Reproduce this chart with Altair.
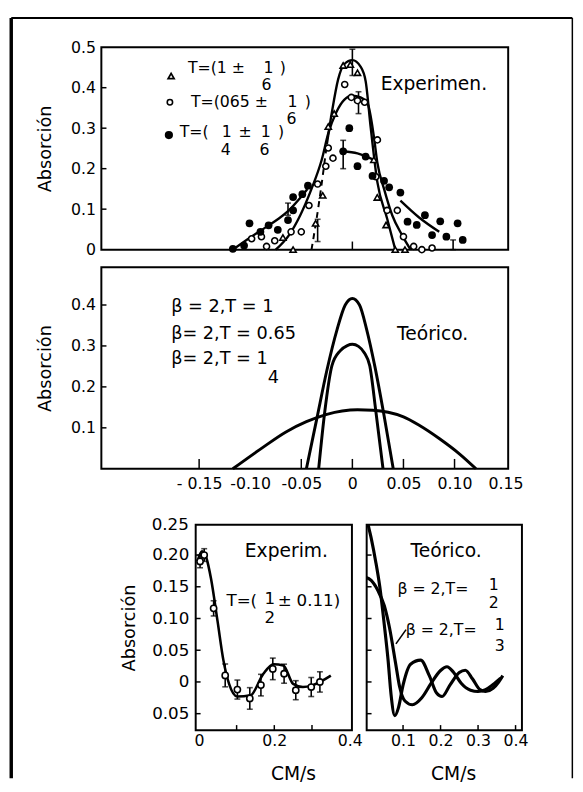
import altair as alt
import pandas as pd

FONT = "DejaVu Sans"

# ---------------- Top panel (Experimen.) ----------------
tri_x = [-0.068, -0.058, -0.036, -0.029, -0.0236, -0.0178, -0.009, -0.002, 0.005, 0.021, 0.0244, 0.033, 0.042, 0.0515]
tri_y = [0.030, 0.000, 0.065, 0.134, 0.304, 0.336, 0.455, 0.457, 0.437, 0.222, 0.129, 0.061, 0.000, 0.000]

oc_x = [-0.0986, -0.089, -0.084, -0.076, -0.060, -0.050, -0.0425, -0.034, -0.026, -0.019, -0.0236, -0.0075,
        -0.001, 0.005, 0.012, 0.0245, 0.023, 0.034, 0.044, 0.050, 0.060, 0.068, 0.078]
oc_y = [0.027, 0.032, 0.008, 0.022, 0.044, 0.044, 0.109, 0.162, 0.206, 0.226, 0.251, 0.408,
        0.376, 0.368, 0.364, 0.271, 0.180, 0.097, 0.097, 0.032, 0.008, 0.000, 0.004]

fc_x = [-0.117, -0.106, -0.1007, -0.090, -0.082, -0.073, -0.063, -0.058, -0.058, -0.049, -0.0435,
        -0.003, -0.009, 0.005, 0.013, 0.0197, 0.031, 0.036, 0.047, 0.054, 0.063, 0.071, 0.078,
        0.086, 0.092, 0.103, 0.108]
fc_y = [0.002, 0.010, 0.065, 0.044, 0.060, 0.049, 0.073, 0.097, 0.130, 0.137, 0.158,
        0.300, 0.243, 0.206, 0.230, 0.182, 0.170, 0.154, 0.141, 0.069, 0.061, 0.085, 0.036,
        0.070, 0.032, 0.065, 0.024]

c1_x = [-0.025, -0.020, -0.014, -0.008, 0.0, 0.008, 0.013, 0.018, 0.0245, 0.034, 0.042]
c1_y = [0.260, 0.340, 0.420, 0.458, 0.468, 0.452, 0.416, 0.300, 0.166, 0.077, 0.0]
c1d_x = [-0.040, -0.033, -0.025]
c1d_y = [0.0, 0.110, 0.260]

c2_x = [-0.075, -0.062, -0.051, -0.040, -0.030, -0.0236, -0.0156, -0.008, 0.0, 0.008, 0.015, 0.021,
        0.0245, 0.031, 0.039, 0.0486, 0.057]
c2_y = [0.0, 0.036, 0.085, 0.150, 0.222, 0.287, 0.340, 0.370, 0.380, 0.376, 0.360, 0.280,
        0.214, 0.150, 0.085, 0.036, 0.0]

c3a_x = [-0.117, -0.100, -0.085, -0.073, -0.063, -0.052, -0.044]
c3a_y = [0.0, 0.030, 0.055, 0.075, 0.095, 0.125, 0.150]
c3b_x = [-0.009, 0.005, 0.021]
c3b_y = [0.243, 0.238, 0.222]
c3c_x = [0.047, 0.065, 0.085]
c3c_y = [0.121, 0.080, 0.044]

err_x = [0.0, 0.006, -0.009, -0.034, -0.063, 0.0986]
err_lo = [0.430, 0.336, 0.200, 0.020, 0.085, 0.0]
err_hi = [0.495, 0.390, 0.270, 0.075, 0.115, 0.024]

top_y_ticks = [0.0, 0.1, 0.2, 0.3, 0.4, 0.5]

# legend / annotation texts of the top panel (data coordinates)
top_left_text_x = [-0.161, -0.158, -0.169]
top_left_text_y = [0.449, 0.364, 0.291]
top_left_text = ["T=(1 \u00b1", "T=(065 \u00b1", "T=("]
top_ctr_text_x = [-0.082, -0.084, -0.068, -0.0585, -0.0595, -0.0435, -0.123, -0.124, -0.105, -0.0848, -0.086, -0.0697]
top_ctr_text_y = [0.449, 0.407, 0.449, 0.364, 0.322, 0.364, 0.291, 0.247, 0.291, 0.291, 0.247, 0.291]
top_ctr_text = ["1", "6", ")", "1", "6", ")", "1", "4", "\u00b1", "1", "6", ")"]
top_title_x = [0.0277]
top_title_y = [0.408]
top_title = ["Experimen."]
leg_x = [-0.1774, -0.1786, -0.1796]
leg_y = [0.429, 0.364, 0.283]

# ---------------- Middle panel (Teórico.) ----------------
m1_x = [-0.045, -0.035, -0.025, -0.015, -0.007, 0.0, 0.007, 0.014, 0.022, 0.031, 0.040]
m1_y = [0.0, 0.120, 0.240, 0.340, 0.400, 0.416, 0.400, 0.340, 0.250, 0.130, 0.0]
m2_x = [-0.033, -0.027, -0.020, -0.012, -0.005, 0.0, 0.006, 0.012, 0.017, 0.023, 0.030]
m2_y = [0.0, 0.140, 0.252, 0.288, 0.301, 0.304, 0.299, 0.282, 0.252, 0.140, 0.0]
m3_x = [-0.117, -0.090, -0.065, -0.045, -0.025, -0.010, 0.005, 0.020, 0.035, 0.050, 0.065, 0.085, 0.105, 0.121]
m3_y = [0.0, 0.048, 0.090, 0.115, 0.133, 0.141, 0.144, 0.143, 0.138, 0.127, 0.107, 0.074, 0.036, 0.0]

mid_x_ticks = [-0.15, -0.10, -0.05, 0.0, 0.05, 0.10, 0.15]
mid_x_inner_ticks = [-0.15, -0.05, 0.0, 0.05, 0.10]
mid_y_ticks = [0.1, 0.2, 0.3, 0.4]
mid_text_x = [-0.1774, -0.1774, -0.1774]
mid_text_y = [0.396, 0.328, 0.268]
mid_text = ["\u03b2 = 2,T = 1", "\u03b2= 2,T = 0.65", "\u03b2= 2,T =  1"]
mid_ctr_x = [-0.0774]
mid_ctr_y = [0.222]
mid_ctr_text = ["4"]
mid_title_x = [0.0437]
mid_title_y = [0.328]
mid_title = ["Te\u00f3rico."]

# ---------------- Bottom-left (Experim.) ----------------
bl_pt_x = [0.003, 0.014, 0.039, 0.0697, 0.102, 0.135, 0.1645, 0.196, 0.226, 0.257, 0.298, 0.321]
bl_pt_y = [0.190, 0.200, 0.116, 0.0103, -0.012, -0.026, -0.005, 0.0206, 0.013, -0.013, -0.008, 0.0]
bl_err = [0.010, 0.010, 0.012, 0.018, 0.015, 0.017, 0.017, 0.017, 0.015, 0.015, 0.015, 0.016]
bl_c_x = [-0.004, 0.008, 0.020, 0.032, 0.0496, 0.065, 0.080, 0.102, 0.137, 0.171, 0.198, 0.224, 0.250, 0.276, 0.302, 0.350]
bl_c_y = [0.190, 0.206, 0.195, 0.163, 0.095, 0.034, -0.003, -0.023, -0.021, 0.013, 0.028, 0.026, -0.003, -0.008, -0.005, 0.010]
bot_y_ticks = [-0.05, 0.0, 0.05, 0.10, 0.15, 0.20]
bot_top_label_y = [0.2477]
bot_top_label = ["0.25"]
bl_x_ticks = [0.0, 0.1, 0.2, 0.3, 0.4]
bl_text_x = [0.232]
bl_text_y = [0.206]
bl_text = ["Experim."]
bl_left_x = [0.073, 0.259]
bl_left_y = [0.128, 0.128]
bl_left_text = ["T=(", "0.11)"]
bl_ctr_x = [0.188, 0.188, 0.228]
bl_ctr_y = [0.131, 0.101, 0.128]
bl_ctr_text = ["1", "2", "\u00b1"]

# ---------------- Bottom-right (Teórico.) ----------------
ra_x = [0.0, 0.008, 0.016, 0.027, 0.038, 0.050, 0.060, 0.068, 0.078, 0.088, 0.100, 0.120, 0.147, 0.170,
        0.190, 0.204, 0.225, 0.250, 0.266, 0.285, 0.305, 0.320, 0.340, 0.355, 0.366]
ra_y = [0.270, 0.245, 0.224, 0.190, 0.150, 0.090, 0.035, -0.020, -0.053, -0.040, -0.005, 0.028, 0.0345, 0.010,
        -0.018, -0.023, -0.005, 0.015, 0.0185, 0.005, -0.012, -0.015, -0.010, 0.0, 0.010]
rb_x = [0.0, 0.015, 0.033, 0.050, 0.064, 0.080, 0.091, 0.105, 0.125, 0.150, 0.175, 0.200, 0.217, 0.235,
        0.255, 0.280, 0.300, 0.320, 0.340, 0.360]
rb_y = [0.165, 0.160, 0.144, 0.120, 0.085, 0.030, -0.008, -0.030, -0.036, -0.025, -0.002, 0.018, 0.024, 0.015,
        -0.002, -0.013, -0.015, -0.012, -0.004, 0.006]
br_x_ticks = [0.1, 0.2, 0.3, 0.4]
br_text_x = [0.215]
br_text_y = [0.206]
br_text = ["Te\u00f3rico."]
br_left_x = [0.085, 0.107]
br_left_y = [0.147, 0.0825]
br_left_text = ["\u03b2 = 2,T=", "\u03b2 = 2,T="]
br_ctr_x = [0.342, 0.342, 0.358, 0.358]
br_ctr_y = [0.152, 0.124, 0.090, 0.057]
br_ctr_text = ["1", "2", "1", "3"]
ptr_x = [0.081, 0.108]
ptr_y = [0.060, 0.0825]

# ---------------- helpers ----------------
LABEL_SIZE = 16
TEXT_SIZE = 17
LEG_SIZE = 16
LW = 2.4


def xy_df(xs, ys, **extra):
    d = pd.DataFrame({"x": xs, "y": ys})
    for k, v in extra.items():
        d[k] = v
    return d


def lines(frames, xs, ys, width=LW, dash=None, clip=False):
    df = pd.concat(frames, ignore_index=True)
    kw = dict(color="black", strokeWidth=width, clip=clip, interpolate="monotone")
    if dash:
        kw["strokeDash"] = dash
    return alt.Chart(df).mark_line(**kw).encode(
        x=alt.X("x:Q", scale=xs), y=alt.Y("y:Q", scale=ys), detail="seg:N", order="x:Q")


def texts(xs_, ys_, ts, xs, ys, align, size=TEXT_SIZE, dx=0):
    df = pd.DataFrame({"x": xs_, "y": ys_, "t": ts})
    return alt.Chart(df).mark_text(align=align, baseline="middle", font=FONT, fontSize=size,
                                   color="black", dx=dx).encode(
        x=alt.X("x:Q", scale=xs), y=alt.Y("y:Q", scale=ys), text="t:N")


def vticks(vals, y0, length, xs, ys):
    df = pd.DataFrame({"x": vals, "y": [y0] * len(vals), "y2": [y0 + length] * len(vals)})
    return alt.Chart(df).mark_rule(color="black", strokeWidth=1.5).encode(
        x=alt.X("x:Q", scale=xs), y=alt.Y("y:Q", scale=ys), y2="y2:Q")


def hticks(vals, x0, length, xs, ys):
    df = pd.DataFrame({"y": vals, "x": [x0] * len(vals), "x2": [x0 + length] * len(vals)})
    return alt.Chart(df).mark_rule(color="black", strokeWidth=1.5).encode(
        x=alt.X("x:Q", scale=xs), x2="x2:Q", y=alt.Y("y:Q", scale=ys))


def errbars(xv, lo, hi, xs, ys, cap=6):
    df = pd.DataFrame({"x": xv, "lo": lo, "hi": hi})
    r = alt.Chart(df).mark_rule(color="black", strokeWidth=1.6).encode(
        x=alt.X("x:Q", scale=xs), y=alt.Y("lo:Q", scale=ys), y2="hi:Q")
    t1 = alt.Chart(df).mark_tick(color="black", orient="horizontal", size=cap, thickness=1.6).encode(
        x=alt.X("x:Q", scale=xs), y=alt.Y("lo:Q", scale=ys))
    t2 = alt.Chart(df).mark_tick(color="black", orient="horizontal", size=cap, thickness=1.6).encode(
        x=alt.X("x:Q", scale=xs), y=alt.Y("hi:Q", scale=ys))
    return [r, t1, t2]


def pts(xs_, ys_, xs, ys, **kw):
    return alt.Chart(xy_df(xs_, ys_)).mark_point(opacity=1, **kw).encode(
        x=alt.X("x:Q", scale=xs), y=alt.Y("y:Q", scale=ys))


def yaxis(values, expr, title, pad_title=16, label_pad=6, size=LABEL_SIZE):
    return alt.Axis(values=values, labelExpr=expr, title=title, ticks=False, tickSize=0, domain=False,
                    grid=False, labelFont=FONT, labelFontSize=size, labelColor="black",
                    labelPadding=label_pad, labelOverlap=False, labelFlush=False, titleFont=FONT,
                    titleFontSize=18, titleFontWeight="normal", titleColor="black", titlePadding=pad_title)


BOX = alt.ViewBackground(stroke="black", strokeWidth=2)

# ---------------- Top panel ----------------
XS_TOP = alt.Scale(domain=[-0.2457, 0.1525], nice=False, zero=False)
YS_TOP = alt.Scale(domain=[0.0, 0.5], nice=False, zero=False)

top_axis_layer = alt.Chart(xy_df([0.0], [0.0])).mark_point(opacity=0).encode(
    x=alt.X("x:Q", scale=XS_TOP, axis=None),
    y=alt.Y("y:Q", scale=YS_TOP,
            axis=yaxis(top_y_ticks, "datum.value == 0 ? '0' : format(datum.value, '.1f')", "Absorción")))

top_lines = lines([xy_df(c1_x, c1_y, seg="c1"), xy_df(c2_x, c2_y, seg="c2"),
                   xy_df(c3a_x, c3a_y, seg="c3a"), xy_df(c3b_x, c3b_y, seg="c3b"),
                   xy_df(c3c_x, c3c_y, seg="c3c")], XS_TOP, YS_TOP)
top_dash = lines([xy_df(c1d_x, c1d_y, seg="d")], XS_TOP, YS_TOP, width=2, dash=[6, 5])

tri = pts(tri_x, tri_y, XS_TOP, YS_TOP, shape="triangle-up", size=40, filled=True, fill="white",
          stroke="black", strokeWidth=1.6)
oc = pts(oc_x, oc_y, XS_TOP, YS_TOP, shape="circle", size=38, filled=True, fill="white",
         stroke="black", strokeWidth=1.6)
fc = pts(fc_x, fc_y, XS_TOP, YS_TOP, shape="circle", size=62, filled=True, color="black")

leg_tri = pts(leg_x[0:1], leg_y[0:1], XS_TOP, YS_TOP, shape="triangle-up", size=36, filled=True,
              fill="white", stroke="black", strokeWidth=1.8)
leg_oc = pts(leg_x[1:2], leg_y[1:2], XS_TOP, YS_TOP, shape="circle", size=30, filled=True,
             fill="white", stroke="black", strokeWidth=1.6)
leg_fc = pts(leg_x[2:3], leg_y[2:3], XS_TOP, YS_TOP, shape="circle", size=70, filled=True, color="black")

top_txt_l = texts(top_left_text_x, top_left_text_y, top_left_text, XS_TOP, YS_TOP, "left", size=LEG_SIZE)
top_txt_c = texts(top_ctr_text_x, top_ctr_text_y, top_ctr_text, XS_TOP, YS_TOP, "center", size=LEG_SIZE)
top_txt_t = texts(top_title_x, top_title_y, top_title, XS_TOP, YS_TOP, "left", size=19)

top_yt = hticks([0.1, 0.2, 0.3, 0.4], -0.2457, 0.005, XS_TOP, YS_TOP)
top_xt = vticks([0.0], 0.0, 0.02, XS_TOP, YS_TOP)

# outer frame of the whole figure (pixel offsets from the top panel's plot area)
frame_df = pd.DataFrame({"a": [0]})
frame_left = alt.Chart(frame_df).mark_rule(color="black", strokeWidth=3.5).encode(
    x=alt.value(-91.7), y=alt.value(-29.7), y2=alt.value(744))
frame_top = alt.Chart(frame_df).mark_rule(color="black", strokeWidth=2).encode(
    x=alt.value(-91.7), x2=alt.value(479.3), y=alt.value(-29.7))
frame_right = alt.Chart(frame_df).mark_rule(color="black", strokeWidth=1.5).encode(
    x=alt.value(479.3), y=alt.value(-29.7), y2=alt.value(744))

top = alt.layer(top_axis_layer, frame_left, frame_top, frame_right, top_lines, top_dash,
                *errbars(err_x, err_lo, err_hi, XS_TOP, YS_TOP), top_yt, top_xt,
                tri, oc, fc, leg_tri, leg_oc, leg_fc, top_txt_l, top_txt_c, top_txt_t).properties(
    width=414, height=206, view=BOX)

# ---------------- Middle panel ----------------
YS_MID = alt.Scale(domain=[0.0, 0.492], nice=False, zero=False)
mid_axis_layer = alt.Chart(xy_df([0.0], [0.0])).mark_point(opacity=0).encode(
    x=alt.X("x:Q", scale=XS_TOP,
            axis=alt.Axis(values=mid_x_ticks, title=None, ticks=False, tickSize=0, domain=False, grid=False,
                          labelFont=FONT, labelFontSize=LABEL_SIZE, labelColor="black", labelPadding=7,
                          labelFlush=False, labelOverlap=False,
                          labelExpr="datum.value == 0 ? '0' : (datum.value < -0.12 ? '- 0.15' : "
                                    "(datum.value < 0 ? '-' + format(-datum.value, '.2f') : format(datum.value, '.2f')))")),
    y=alt.Y("y:Q", scale=YS_MID, axis=yaxis(mid_y_ticks, "format(datum.value, '.1f')", "Absorción")))
mid_lines = lines([xy_df(m1_x, m1_y, seg="a"), xy_df(m2_x, m2_y, seg="b"), xy_df(m3_x, m3_y, seg="c")],
                  XS_TOP, YS_MID, width=3)
mid_yt = hticks(mid_y_ticks, -0.2457, 0.005, XS_TOP, YS_MID)
mid_xt = vticks(mid_x_inner_ticks, 0.0, 0.024, XS_TOP, YS_MID)
mid_txt_l = texts(mid_text_x, mid_text_y, mid_text, XS_TOP, YS_MID, "left", size=18)
mid_txt_c = texts(mid_ctr_x, mid_ctr_y, mid_ctr_text, XS_TOP, YS_MID, "center", size=18)
mid_txt_t = texts(mid_title_x, mid_title_y, mid_title, XS_TOP, YS_MID, "left", size=19)
mid = alt.layer(mid_axis_layer, mid_lines, mid_yt, mid_xt, mid_txt_l, mid_txt_c, mid_txt_t).properties(
    width=414, height=205, view=BOX)

# ---------------- Bottom-left ----------------
YS_BOT = alt.Scale(domain=[-0.076, 0.2477], nice=False, zero=False)
XS_BL = alt.Scale(domain=[-0.0086, 0.406], nice=False, zero=False)
XS_BR = alt.Scale(domain=[0.003, 0.417], nice=False, zero=False)


def xaxis_bot(values, title_x):
    return alt.Axis(values=values, title="CM/s", ticks=False, tickSize=0, domain=False, grid=False,
                    labelFont=FONT, labelFontSize=LABEL_SIZE, labelColor="black", labelPadding=3,
                    labelFlush=False, labelOverlap=False,
                    labelExpr="datum.value == 0 ? '0' : format(datum.value, '.1f')",
                    titleFont=FONT, titleFontSize=19, titleFontWeight="normal", titleColor="black",
                    titlePadding=16, titleX=title_x)


bl_axis_layer = alt.Chart(xy_df([0.0], [0.0])).mark_point(opacity=0).encode(
    x=alt.X("x:Q", scale=XS_BL, axis=xaxis_bot(bl_x_ticks, 99)),
    y=alt.Y("y:Q", scale=YS_BOT,
            axis=yaxis(bot_y_ticks, "datum.value == 0 ? '0' : format(abs(datum.value), '.2f')", "Absorción",
                       pad_title=13, label_pad=7, size=17)))
bl_top_lbl = texts([-0.0086], bot_top_label_y, bot_top_label, XS_BL, YS_BOT, "right", size=17, dx=-7)
bl_lo = [a - b for a, b in zip(bl_pt_y, bl_err)]
bl_hi = [a + b for a, b in zip(bl_pt_y, bl_err)]
bl_line = lines([xy_df(bl_c_x, bl_c_y, seg="a")], XS_BL, YS_BOT, width=2.6)
bl_errs = errbars(bl_pt_x, bl_lo, bl_hi, XS_BL, YS_BOT, cap=6)
bl_pts = pts(bl_pt_x, bl_pt_y, XS_BL, YS_BOT, shape="circle", size=40, filled=True, fill="white",
             stroke="black", strokeWidth=1.6)
bl_yt = hticks([-0.05, 0.0, 0.05, 0.10, 0.15, 0.20], -0.0086, 0.013, XS_BL, YS_BOT)
bl_xt = vticks([0.1, 0.2, 0.3], -0.076, 0.008, XS_BL, YS_BOT)
bl_t1 = texts(bl_text_x, bl_text_y, bl_text, XS_BL, YS_BOT, "center", size=19)
bl_t2 = texts(bl_left_x, bl_left_y, bl_left_text, XS_BL, YS_BOT, "left")
bl_t3 = texts(bl_ctr_x, bl_ctr_y, bl_ctr_text, XS_BL, YS_BOT, "center")
bl = alt.layer(bl_axis_layer, bl_line, *bl_errs, bl_pts, bl_yt, bl_xt, bl_t1, bl_t2, bl_t3,
               bl_top_lbl).properties(width=159, height=209, view=BOX)

# ---------------- Bottom-right ----------------
br_axis_layer = alt.Chart(xy_df([0.1], [0.0])).mark_point(opacity=0).encode(
    x=alt.X("x:Q", scale=XS_BR, axis=xaxis_bot(br_x_ticks, 88)),
    y=alt.Y("y:Q", scale=YS_BOT, axis=None))
br_lines = lines([xy_df(ra_x, ra_y, seg="a"), xy_df(rb_x, rb_y, seg="b")], XS_BR, YS_BOT, width=3.2, clip=True)
br_yt = hticks([-0.05, 0.0, 0.05, 0.10, 0.15, 0.20], 0.003, 0.013, XS_BR, YS_BOT)
br_xt = vticks(br_x_ticks, -0.076, 0.008, XS_BR, YS_BOT)
ptr = lines([xy_df(ptr_x, ptr_y, seg="p")], XS_BR, YS_BOT, width=1.6)
br_t1 = texts(br_text_x, br_text_y, br_text, XS_BR, YS_BOT, "center", size=19)
br_t2 = texts(br_left_x, br_left_y, br_left_text, XS_BR, YS_BOT, "left", size=16)
br_t3 = texts(br_ctr_x, br_ctr_y, br_ctr_text, XS_BR, YS_BOT, "center", size=16)
br = alt.layer(br_axis_layer, br_lines, br_yt, br_xt, ptr, br_t1, br_t2, br_t3).properties(
    width=158, height=209, view=BOX)

NOBOX = alt.ViewBackground(stroke="transparent")
spacer = alt.Chart(pd.DataFrame({"a": [0]})).mark_point(opacity=0).encode(
    x=alt.X("a:Q", axis=None), y=alt.Y("a:Q", axis=None)).properties(width=81, height=209, view=NOBOX)
vspacer = alt.Chart(pd.DataFrame({"a": [0]})).mark_point(opacity=0).encode(
    x=alt.X("a:Q", axis=None), y=alt.Y("a:Q", axis=None)).properties(width=10, height=21, view=NOBOX)

bottom = alt.hconcat(spacer, bl, br, spacing=15, bounds="flush")
chart = alt.vconcat(top, mid, vspacer, bottom, spacing=18, bounds="flush").properties(
    padding={"left": 0, "top": 0, "right": 0, "bottom": 0}, background="white"
).configure_axis(labelOverlap=False, labelFlush=False)

chart.save("out.html", embed_options={"renderer": "svg", "actions": False})
